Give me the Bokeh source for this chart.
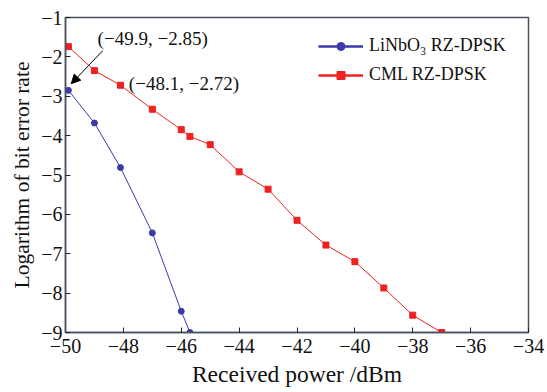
from bokeh.plotting import figure
from bokeh.models import Range1d, Legend, LegendItem, Arrow, NormalHead, Label, FixedTicker
from bokeh.embed import file_html
from bokeh.resources import INLINE

# Data
linbo3_x = [-49.9, -49.0, -48.1, -47.0, -46.0, -45.7]
linbo3_y = [-2.85, -3.68, -4.81, -6.47, -8.46, -9.0]
cml_x = [-49.9, -49.0, -48.1, -47.0, -46.0, -45.7, -45.0, -44.0, -43.0, -42.0, -41.0, -40.0, -39.0, -38.0, -37.0]
cml_y = [-1.74, -2.35, -2.72, -3.33, -3.85, -4.02, -4.23, -4.92, -5.36, -6.15, -6.78, -7.2, -7.87, -8.56, -9.0]
x_ticks = [-50, -48, -46, -44, -42, -40, -38, -36, -34]
y_ticks = [-9, -8, -7, -6, -5, -4, -3, -2, -1]
ann1_text = "(\u221249.9, \u22122.85)"
ann2_text = "(\u221248.1, \u22122.72)"
legend_labels = ["LiNbO\u2083 RZ-DPSK", "CML RZ-DPSK"]

FONT = "Liberation Serif"
FRAME = "#4a5262"
BLUE = "#3a3aa8"
RED = "#ee2020"
TXT = "#111111"

p = figure(width=547, height=392, output_backend="svg", toolbar_location=None,
           x_range=Range1d(-50, -34), y_range=Range1d(-9, -1),
           min_border_left=65, min_border_right=19, min_border_top=17, min_border_bottom=60)
p.grid.visible = False
p.outline_line_color = FRAME
p.outline_line_width = 1.5
p.background_fill_color = "white"
p.border_fill_color = "white"

for ax in (p.xaxis[0], p.yaxis[0]):
    ax.axis_line_color = FRAME
    ax.axis_line_width = 1.5
    ax.major_tick_line_color = "#222222"
    ax.major_tick_in = 5
    ax.major_tick_out = 0
    ax.minor_tick_line_color = None
    ax.major_label_text_font = FONT
    ax.major_label_text_font_size = "20px"
    ax.major_label_text_color = TXT
    ax.axis_label_text_font = FONT
    ax.axis_label_text_font_style = "normal"
    ax.axis_label_text_color = TXT

p.xaxis.axis_label_text_font_size = "23.5px"
p.yaxis.axis_label_text_font_size = "21.5px"
p.xaxis.ticker = FixedTicker(ticks=x_ticks)
p.yaxis.ticker = FixedTicker(ticks=y_ticks)
p.xaxis.major_label_overrides = {t: "\u2212" + str(abs(t)) for t in x_ticks}
p.yaxis.major_label_overrides = {t: "\u2212" + str(abs(t)) for t in y_ticks}
p.xaxis.axis_label = "Received power /dBm"
p.yaxis.axis_label = "Logarithm of bit error rate"
p.xaxis.major_label_standoff = 6
p.yaxis.major_label_standoff = 3
p.xaxis.axis_label_standoff = 5
p.yaxis.axis_label_standoff = 4

l1 = p.line(linbo3_x, linbo3_y, color=BLUE, line_width=1)
s1 = p.scatter(linbo3_x, linbo3_y, marker="circle", size=6, color=BLUE)
l2 = p.line(cml_x, cml_y, color=RED, line_width=1)
s2 = p.scatter(cml_x, cml_y, marker="square", size=6, color=RED)

# legend-only sample lines (thicker, as in the reference); a one-point line draws nothing in the plot
lg1 = p.line(linbo3_x[:1], linbo3_y[:1], color=BLUE, line_width=2.5)
lg2 = p.line(cml_x[:1], cml_y[:1], color=RED, line_width=2.5)

legend = Legend(items=[
    LegendItem(label=legend_labels[0], renderers=[lg1, s1]),
    LegendItem(label=legend_labels[1], renderers=[lg2, s2]),
], location=(253, 247))
legend.border_line_alpha = 0
legend.background_fill_alpha = 0
legend.label_text_font = FONT
legend.label_text_font_size = "18px"
legend.label_text_color = TXT
legend.glyph_width = 45
legend.glyph_height = 20
legend.label_height = 20
legend.label_standoff = 6
legend.spacing = 8
legend.margin = 0
legend.padding = 0
p.add_layout(legend)

p.add_layout(Arrow(end=NormalHead(size=9, fill_color="black", line_color="black"),
                   x_start=-48.71, y_start=-1.84, x_end=-49.80, y_end=-2.68,
                   line_color="black", line_width=1))
p.add_layout(Label(x=-48.89, y=-1.53, text=ann1_text, text_font=FONT, text_font_size="19px",
                   text_baseline="middle", text_color=TXT))
p.add_layout(Label(x=-47.81, y=-2.67, text=ann2_text, text_font=FONT, text_font_size="19px",
                   text_baseline="middle", text_color=TXT))

open("out.html", "w").write(file_html(p, INLINE))
